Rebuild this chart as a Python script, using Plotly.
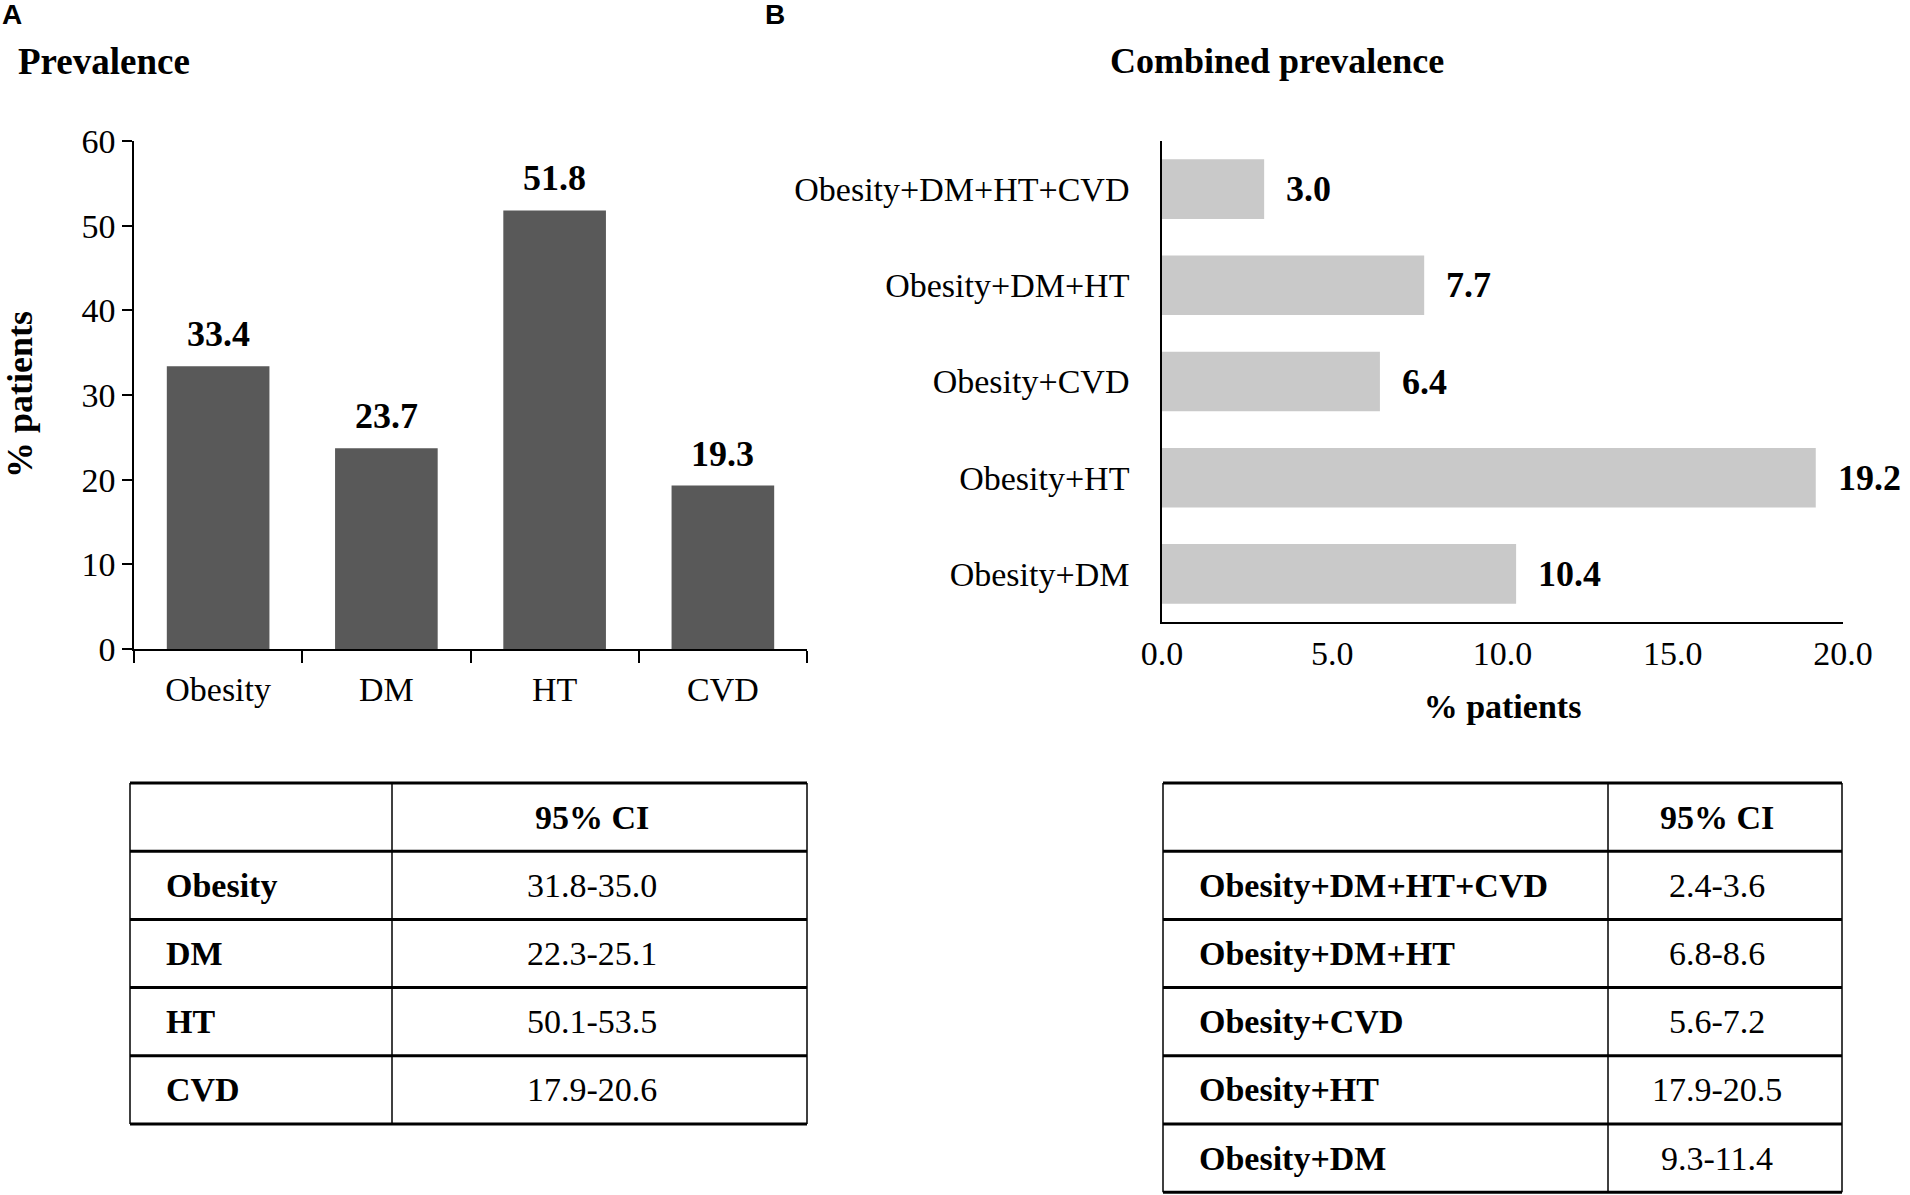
import plotly.graph_objects as go

# panel A data
conditions = ["Obesity", "DM", "HT", "CVD"]
prevalence = [33.4, 23.7, 51.8, 19.3]
prevalence_ci = ["31.8-35.0", "22.3-25.1", "50.1-53.5", "17.9-20.6"]

# panel B data (top to bottom)
combinations = ["Obesity+DM+HT+CVD", "Obesity+DM+HT", "Obesity+CVD", "Obesity+HT", "Obesity+DM"]
combined_prevalence = [3.0, 7.7, 6.4, 19.2, 10.4]
combined_ci = ["2.4-3.6", "6.8-8.6", "5.6-7.2", "17.9-20.5", "9.3-11.4"]

W, H = 1910, 1195
SERIF = "Liberation Serif, Times New Roman, serif"
SANS = "Liberation Sans, Arial, sans-serif"


def fx(px):
    return px / W


def fy(py):
    return 1 - py / H


fig = go.Figure()

fig.add_trace(go.Bar(x=conditions, y=prevalence, marker=dict(color="#595959", line=dict(width=0)),
                     width=0.61, xaxis="x", yaxis="y", showlegend=False))
fig.add_trace(go.Bar(x=combined_prevalence, y=combinations, orientation="h",
                     marker=dict(color="#c9c9c9", line=dict(width=0)),
                     width=0.62, xaxis="x2", yaxis="y2", showlegend=False))

axis_common = dict(showline=True, linecolor="black", linewidth=1.5, showgrid=False, zeroline=False,
                   automargin=False, tickfont=dict(family=SERIF, size=34, color="black"))

fig.update_layout(
    width=W, height=H,
    margin=dict(l=0, r=0, t=0, b=0, autoexpand=False),
    paper_bgcolor="white", plot_bgcolor="white",
    font=dict(family=SERIF, color="black"),
    showlegend=False,
    xaxis=dict(axis_common, domain=[fx(134), fx(807)], anchor="y", type="category",
               range=[-0.5, 3.5], ticks="outside", tickson="boundaries", ticklen=12,
               tickwidth=1.5, tickcolor="black", ticklabelstandoff=9),
    yaxis=dict(axis_common, domain=[fy(649), fy(141)], anchor="x", range=[0, 60], dtick=10,
               ticks="outside", ticklen=10, tickwidth=1.5, tickcolor="black"),
    xaxis2=dict(axis_common, domain=[fx(1162), fx(1843)], anchor="y2", range=[0, 20], dtick=5,
                tickformat=".1f", ticks="",
                title=dict(text="<b>% patients</b>", font=dict(family=SERIF, size=34), standoff=24)),
    yaxis2=dict(axis_common, domain=[fy(622), fy(141)], anchor="x2", autorange="reversed",
                ticks="", ticklabelstandoff=24),
)

ann = []
# value labels
for c, v in zip(conditions, prevalence):
    ann.append(dict(x=c, y=v, xref="x", yref="y", text="<b>%.1f</b>" % v, showarrow=False,
                    yanchor="bottom", yshift=10, font=dict(family=SERIF, size=36)))
for c, v in zip(combinations, combined_prevalence):
    ann.append(dict(x=v, y=c, xref="x2", yref="y2", text="<b>%.1f</b>" % v, showarrow=False,
                    xanchor="left", xshift=20, font=dict(family=SERIF, size=36)))

# panel letters and titles
ann.append(dict(x=fx(0), y=fy(15), xref="paper", yref="paper", text="<b>A</b>", showarrow=False,
                xanchor="left", yanchor="middle", font=dict(family=SANS, size=28)))
ann.append(dict(x=fx(763), y=fy(15), xref="paper", yref="paper", text="<b>B</b>", showarrow=False,
                xanchor="left", yanchor="middle", font=dict(family=SANS, size=28)))
ann.append(dict(x=fx(16), y=fy(61), xref="paper", yref="paper", text="<b>Prevalence</b>",
                showarrow=False, xanchor="left", yanchor="middle", font=dict(family=SERIF, size=37)))
ann.append(dict(x=fx(1108), y=fy(61), xref="paper", yref="paper", text="<b>Combined prevalence</b>",
                showarrow=False, xanchor="left", yanchor="middle", font=dict(family=SERIF, size=36)))
ann.append(dict(x=fx(20), y=fy(395), xref="paper", yref="paper", text="<b>% patients</b>",
                showarrow=False, textangle=-90, xanchor="center", yanchor="middle",
                font=dict(family=SERIF, size=36)))

# CI tables drawn as lines + text
shapes = []
ROW_H = 68.2


def add_table(labels, cis, x0, xmid, x1, top):
    n = len(labels) + 1
    bottom = top + n * ROW_H
    for i in range(n + 1):
        yy = top + i * ROW_H
        shapes.append(dict(type="line", xref="paper", yref="paper", x0=fx(x0), x1=fx(x1),
                           y0=fy(yy), y1=fy(yy), line=dict(color="black", width=3)))
    for xx in (x0, xmid, x1):
        shapes.append(dict(type="line", xref="paper", yref="paper", x0=fx(xx), x1=fx(xx),
                           y0=fy(top), y1=fy(bottom), line=dict(color="black", width=1.5)))
    ann.append(dict(x=fx((xmid + x1) / 2 - 8), y=fy(top + ROW_H / 2), xref="paper", yref="paper",
                    text="<b>95% CI</b>", showarrow=False, xanchor="center", yanchor="middle",
                    font=dict(family=SERIF, size=34)))
    for i, (lab, ci) in enumerate(zip(labels, cis)):
        yc = top + (i + 1.5) * ROW_H
        ann.append(dict(x=fx(x0 + 34), y=fy(yc), xref="paper", yref="paper", text="<b>%s</b>" % lab,
                        showarrow=False, xanchor="left", yanchor="middle",
                        font=dict(family=SERIF, size=34)))
        ann.append(dict(x=fx((xmid + x1) / 2 - 8), y=fy(yc), xref="paper", yref="paper", text=ci,
                        showarrow=False, xanchor="center", yanchor="middle",
                        font=dict(family=SERIF, size=34)))


add_table(conditions, prevalence_ci, 130, 392, 807, 783)
add_table(combinations, combined_ci, 1163, 1608, 1842, 783)

fig.update_layout(annotations=ann, shapes=shapes)

# page without the default body margin, so the figure sits at the window corner
fig.write_html("out.html", config={"displayModeBar": False},
               post_script="document.body.style.margin = '0';")
